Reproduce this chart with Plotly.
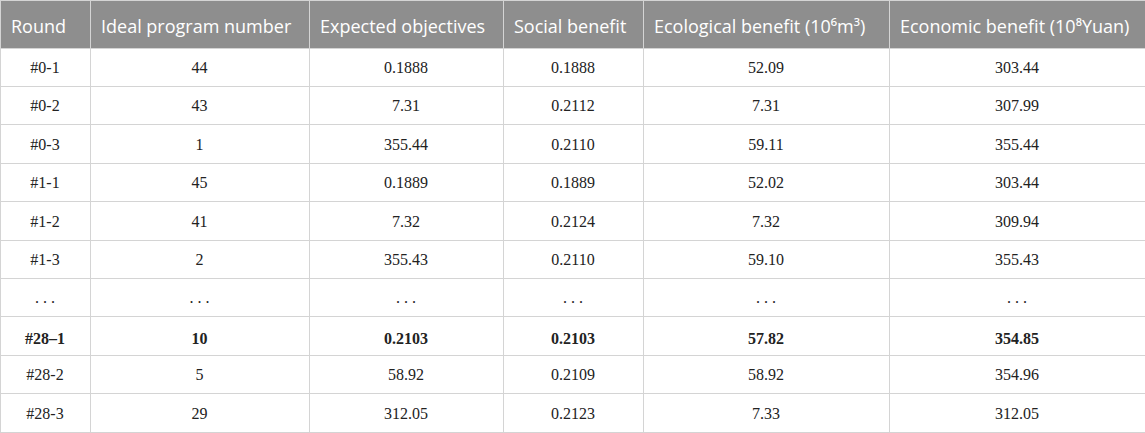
import plotly.graph_objects as go

headers = ["Round", "Ideal program number", "Expected objectives", "Social benefit",
           "Ecological benefit (10\u2076m\u00b3)",
           "Economic benefit (10\u2078Yuan)"]

rounds = ["#0-1", "#0-2", "#0-3", "#1-1", "#1-2", "#1-3", ". . .", "#28\u20131", "#28-2", "#28-3"]
program = ["44", "43", "1", "45", "41", "2", ". . .", "10", "5", "29"]
expected = ["0.1888", "7.31", "355.44", "0.1889", "7.32", "355.43", ". . .", "0.2103", "58.92", "312.05"]
social = ["0.1888", "0.2112", "0.2110", "0.1889", "0.2124", "0.2110", ". . .", "0.2103", "0.2109", "0.2123"]
ecological = ["52.09", "7.31", "59.11", "52.02", "7.32", "59.10", ". . .", "57.82", "58.92", "7.33"]
economic = ["303.44", "307.99", "355.44", "303.44", "309.94", "355.43", ". . .", "354.85", "354.96", "312.05"]

bold_row = 7
col_w = [90, 219, 194, 140, 246, 256]
W, H = 1145, 433
head_h, row_h = 48, 38.4
head_shift, body_shift = 11, 5   # plotly puts text at the top of a cell; push it to the middle

cols = [rounds, program, expected, social, ecological, economic]
cols = [[f"<b>{v}</b>" if i == bold_row else v for i, v in enumerate(c)] for c in cols]
n = len(rounds)

clear = "rgba(0,0,0,0)"
grid_line = "#d4d4d4"
head_font = dict(family="Open Sans", size=18, color="white")
body_font = dict(family="Liberation Serif", size=16, color="#222222")
blank = lambda k: [[""] * k for _ in cols]

fig = go.Figure()

# grid: fills and lines only
fig.add_trace(go.Table(
    columnwidth=col_w,
    header=dict(values=[""] * len(cols), fill_color="#8e8e8e",
                line=dict(color=grid_line, width=1), height=head_h),
    cells=dict(values=blank(n), fill_color="white",
               line=dict(color=grid_line, width=1), height=row_h),
))

# header text, pushed down
fig.add_trace(go.Table(
    columnwidth=col_w,
    domain=dict(y=[0, 1 - head_shift / H]),
    header=dict(values=["\u2009" + h for h in headers], fill_color=clear,
                line=dict(color=clear, width=0), font=head_font,
                align="left", height=head_h),
    cells=dict(values=[[] for _ in cols], fill_color=clear,
               line=dict(color=clear, width=0)),
))

# body text rows 0..n-2, pushed down
fig.add_trace(go.Table(
    columnwidth=col_w,
    header=dict(values=[""] * len(cols), fill_color=clear,
                line=dict(color=clear, width=0), height=head_h + body_shift),
    cells=dict(values=[c[:-1] for c in cols], fill_color=clear,
               line=dict(color=clear, width=0), font=body_font,
               align="center", height=row_h),
))

# last body row
fig.add_trace(go.Table(
    columnwidth=col_w,
    header=dict(values=[""] * len(cols), fill_color=clear,
                line=dict(color=clear, width=0),
                height=head_h + (n - 1) * row_h + body_shift),
    cells=dict(values=[c[-1:] for c in cols], fill_color=clear,
               line=dict(color=clear, width=0), font=body_font,
               align="center", height=row_h - body_shift - 1),
))

fig.update_layout(
    width=W, height=H,
    margin=dict(l=0, r=0, t=0, b=0),
    paper_bgcolor="white",
)

fig.write_html("out.html", config=dict(displayModeBar=False),
               post_script="document.body.style.margin='0';")
